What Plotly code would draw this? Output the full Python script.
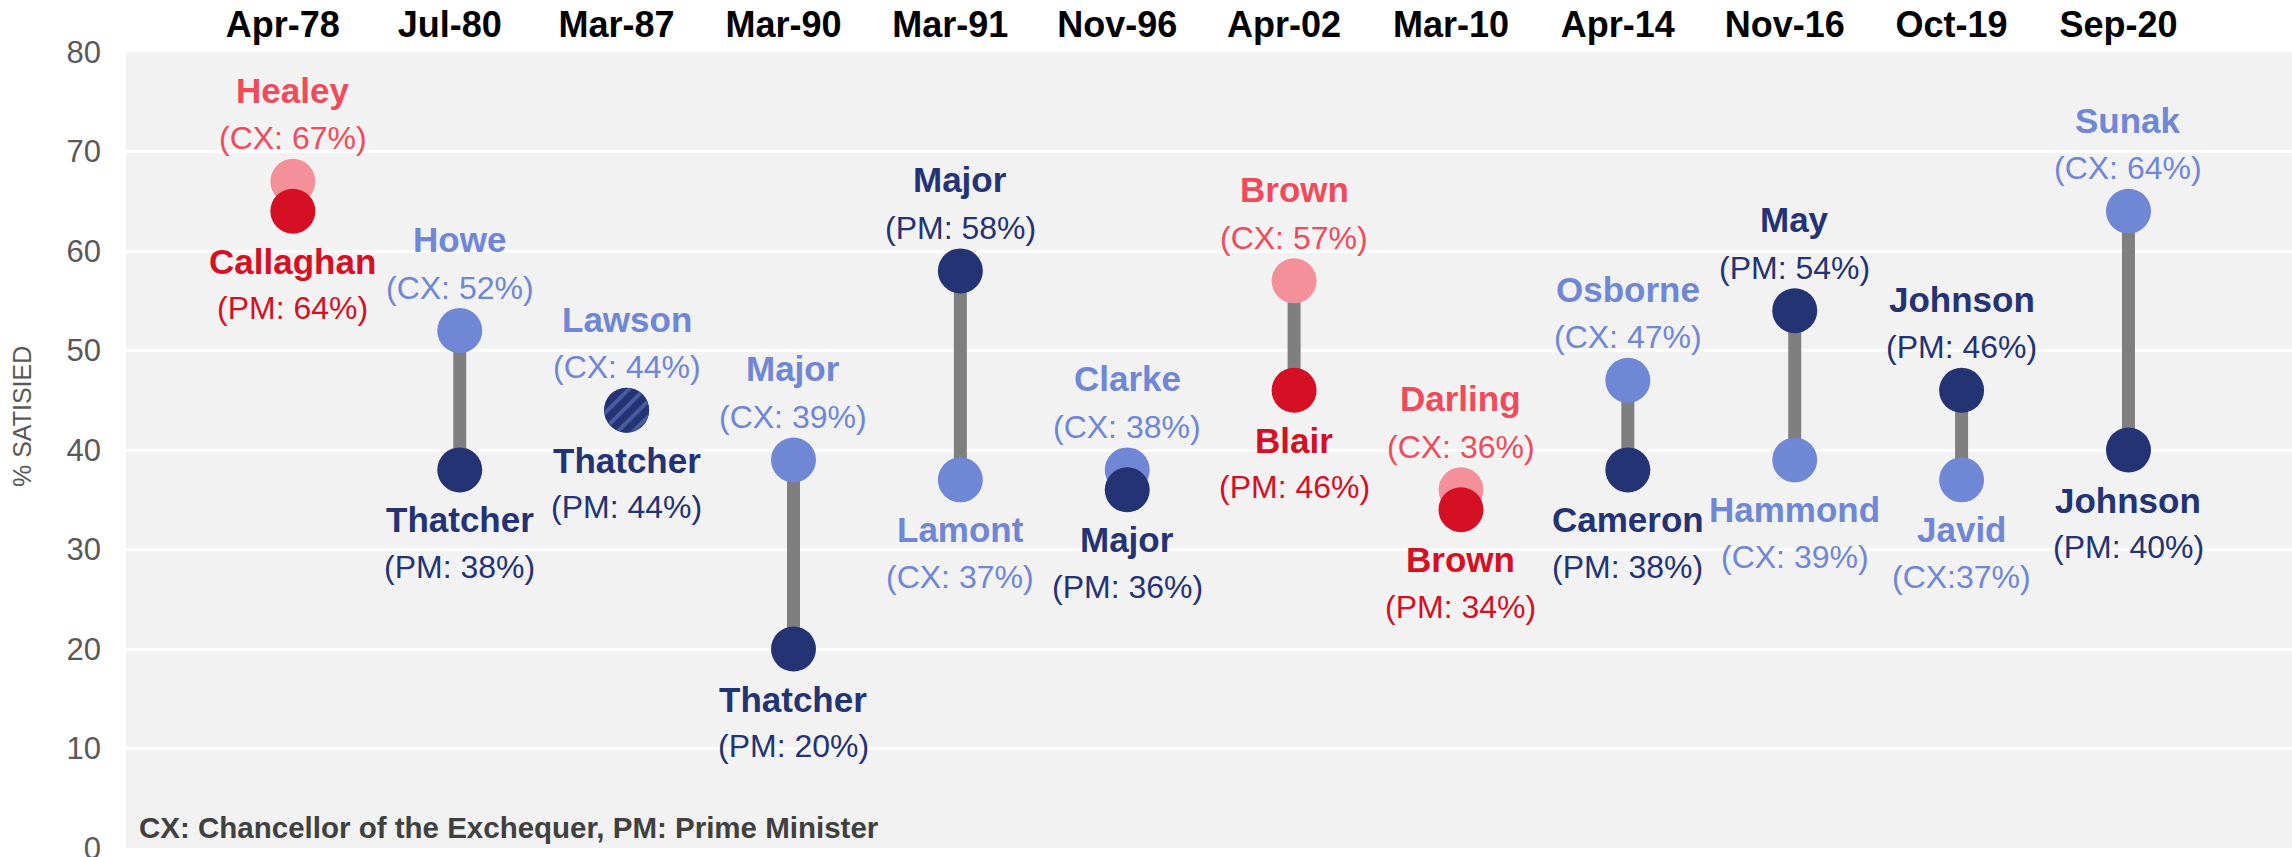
import numpy as np
import plotly.graph_objects as go

# ---------------- data ----------------
dates = ["Apr-78", "Jul-80", "Mar-87", "Mar-90", "Mar-91", "Nov-96",
         "Apr-02", "Mar-10", "Apr-14", "Nov-16", "Oct-19", "Sep-20"]
party = ["Lab", "Con", "Con", "Con", "Con", "Con",
         "Lab", "Lab", "Con", "Con", "Con", "Con"]
cx_names = ["Healey", "Howe", "Lawson", "Major", "Lamont", "Clarke",
            "Brown", "Darling", "Osborne", "Hammond", "Javid", "Sunak"]
cx_values = [67, 52, 44, 39, 37, 38, 57, 36, 47, 39, 37, 64]
pm_names = ["Callaghan", "Thatcher", "Thatcher", "Thatcher", "Major", "Major",
            "Blair", "Brown", "Cameron", "May", "Johnson", "Johnson"]
pm_values = [64, 38, 44, 20, 58, 36, 46, 34, 38, 54, 46, 40]
cx_tag = ["CX: ", "CX: ", "CX: ", "CX: ", "CX: ", "CX: ",
          "CX: ", "CX: ", "CX: ", "CX: ", "CX:", "CX: "]
shared_date = "Mar-87"   # PM and CX share the same score: hatched dot
y_ticks = [0, 10, 20, 30, 40, 50, 60, 70, 80]
footnote = "CX: Chancellor of the Exchequer, PM: Prime Minister"
y_title = "% SATISIED"

# ---------------- style ----------------
W, H = 2292, 857
M_L, M_R, M_T, M_B = 126, 0, 52, 9
X_RANGE = [-1.0, 11.98]
Y_RANGE = [0, 80]
FONT = "Arial, Liberation Sans, sans-serif"
COL = {
    ("Con", "PM"): "#233373", ("Con", "CX"): "#6f87d5",
    ("Lab", "PM"): "#d51024", ("Lab", "CX"): "#f4909a",
}
TXT = {
    ("Con", "PM"): "#233373", ("Con", "CX"): "#6f87d5",
    ("Lab", "PM"): "#d51024", ("Lab", "CX"): "#ef4b5b",
}
DOT = 45
NAME_SIZE = 35
VAL_SIZE = 32
ABOVE_NAME, ABOVE_VAL = 91, 43
BELOW_NAME, BELOW_VAL = 50, 97

xs = list(range(len(dates)))
fig = go.Figure()

# connectors
lx, ly = [], []
for i in xs:
    lx += [i, i, None]
    ly += [cx_values[i], pm_values[i], None]
fig.add_trace(go.Scatter(x=lx, y=ly, mode="lines",
                         line=dict(color="#7f7f7f", width=13),
                         hoverinfo="skip", showlegend=False))

# CX dots then PM dots (PM on top)
fig.add_trace(go.Scatter(x=xs, y=cx_values, mode="markers",
                         marker=dict(size=DOT, color=[COL[(p, "CX")] for p in party], line=dict(width=0)),
                         showlegend=False, name="CX"))
fig.add_trace(go.Scatter(x=xs, y=pm_values, mode="markers",
                         marker=dict(size=DOT, color=[COL[(p, "PM")] for p in party], line=dict(width=0)),
                         showlegend=False, name="PM"))

# hatched dot for shared score
plot_w = W - M_L - M_R
plot_h = H - M_T - M_B
px_per_x = plot_w / (X_RANGE[1] - X_RANGE[0])
px_per_y = plot_h / (Y_RANGE[1] - Y_RANGE[0])
k = dates.index(shared_date)
r = DOT / 2 - 0.3
t = np.linspace(0, 2 * np.pi, 90)
fig.add_trace(go.Scatter(
    x=k + r * np.cos(t) / px_per_x,
    y=pm_values[k] + r * np.sin(t) / px_per_y,
    mode="lines", fill="toself", line=dict(width=0, color=COL[(party[k], "PM")]),
    fillcolor=COL[(party[k], "PM")],
    fillpattern=dict(shape="/", bgcolor=COL[(party[k], "PM")], fgcolor=COL[(party[k], "CX")],
                     size=11, solidity=0.35),
    hoverinfo="skip", showlegend=False))

# labels
ann = []
for i in xs:
    cx_txt = f"({cx_tag[i]}{cx_values[i]}%)"
    pm_txt = f"(PM: {pm_values[i]}%)"
    entries = [(cx_names[i], cx_txt, cx_values[i], TXT[(party[i], "CX")]),
               (pm_names[i], pm_txt, pm_values[i], TXT[(party[i], "PM")])]
    if cx_values[i] >= pm_values[i]:
        top, bot = entries
    else:
        bot, top = entries
    ann.append(dict(x=i, y=top[2], text=f"<b>{top[0]}</b>", yshift=ABOVE_NAME,
                    font=dict(size=NAME_SIZE, color=top[3], family=FONT)))
    ann.append(dict(x=i, y=top[2], text=top[1], yshift=ABOVE_VAL,
                    font=dict(size=VAL_SIZE, color=top[3], family=FONT)))
    ann.append(dict(x=i, y=bot[2], text=f"<b>{bot[0]}</b>", yshift=-BELOW_NAME,
                    font=dict(size=NAME_SIZE, color=bot[3], family=FONT)))
    ann.append(dict(x=i, y=bot[2], text=bot[1], yshift=-BELOW_VAL,
                    font=dict(size=VAL_SIZE, color=bot[3], family=FONT)))
for a in ann:
    a.update(xref="x", yref="y", showarrow=False, xanchor="center", yanchor="middle")

ann.append(dict(xref="paper", yref="paper", x=11 / plot_w, y=21 / plot_h,
                xanchor="left", yanchor="middle", showarrow=False,
                text=f"<b>{footnote}</b>", font=dict(size=29.5, color="#404040", family=FONT)))
ann.append(dict(xref="paper", yref="paper", x=-104 / plot_w, y=431 / plot_h,
                xanchor="center", yanchor="middle", showarrow=False, textangle=-90,
                text=y_title, font=dict(size=25, color="#595959", family=FONT)))

fig.update_layout(
    width=W, height=H,
    margin=dict(l=M_L, r=M_R, t=M_T, b=M_B, pad=0, autoexpand=False),
    paper_bgcolor="white", plot_bgcolor="#f2f2f2",
    font=dict(family=FONT),
    annotations=ann,
    xaxis=dict(range=X_RANGE, side="top", tickmode="array", tickvals=xs, ticktext=dates,
               showgrid=False, zeroline=False, showline=False, ticks="", automargin=False,
               tickfont=dict(size=36, color="black", family=FONT, weight="bold"),
               ticklabelshift=-10, ticklabelstandoff=7, ticklabeloverflow="allow",
               fixedrange=True),
    yaxis=dict(range=Y_RANGE, tickmode="array", tickvals=y_ticks, automargin=False,
               showgrid=True, gridcolor="white", gridwidth=2.5, zeroline=False,
               showline=False, ticks="", tickfont=dict(size=31, color="#595959", family=FONT),
               ticklabelstandoff=24, ticklabeloverflow="allow", fixedrange=True),
    showlegend=False,
)

fig.write_html("out.html", config={"displayModeBar": False},
               post_script="document.body.style.margin='0px';")
